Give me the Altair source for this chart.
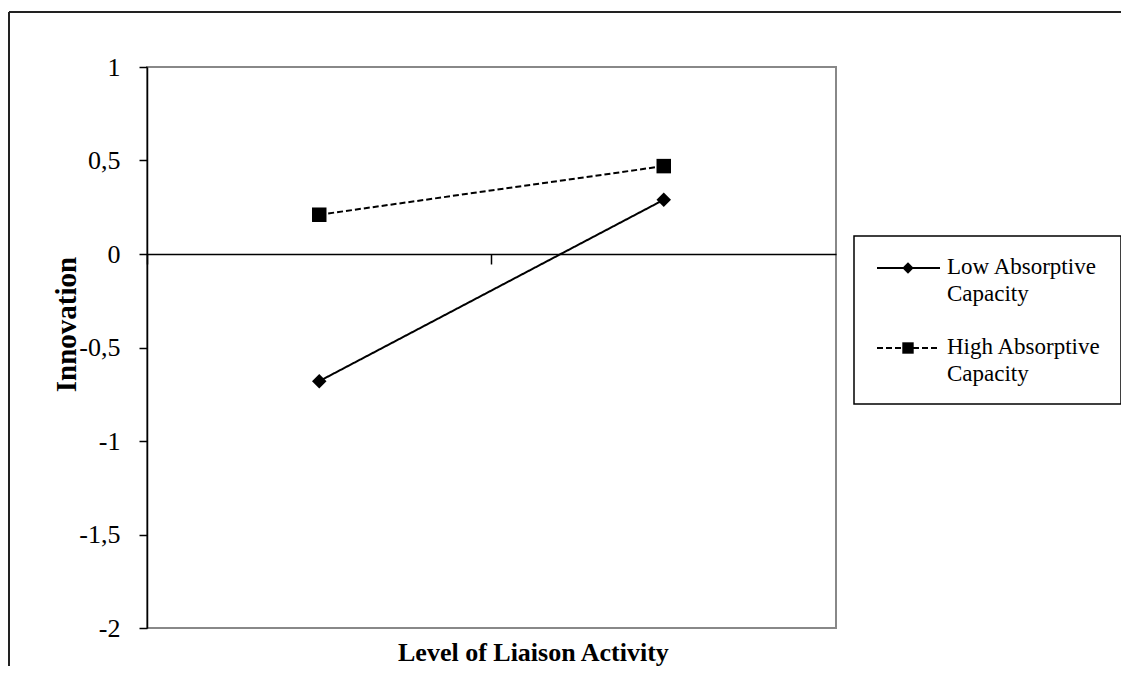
import altair as alt
import pandas as pd

# ---- data ----
liaison_levels = ["Low", "High"]
series_names = ["Low Absorptive Capacity", "High Absorptive Capacity"]
low_capacity = [-0.68, 0.29]
high_capacity = [0.21, 0.47]
y_ticks = [-2, -1.5, -1, -0.5, 0, 0.5, 1]
x_title = "Level of Liaison Activity"
y_title = "Innovation"

rows = []
for lvl, v in zip(liaison_levels, low_capacity):
    rows.append({"liaison": lvl, "series": series_names[0], "value": v})
for lvl, v in zip(liaison_levels, high_capacity):
    rows.append({"liaison": lvl, "series": series_names[1], "value": v})
df = pd.DataFrame(rows)
leg_df = pd.DataFrame({"series": series_names})
one = pd.DataFrame({"k": [0]})

FONT = "Liberation Serif"
W, H = 689, 561

dash_scale = alt.Scale(domain=series_names, range=[[1, 0], [6, 3]])
shape_scale = alt.Scale(domain=series_names, range=["diamond", "square"])

x_enc = alt.X(
    "liaison:N", sort=liaison_levels, bandPosition=0.5,
    scale=alt.Scale(type="band", paddingInner=0, paddingOuter=0),
    axis=alt.Axis(title=None, labels=False, domainColor="black", domainWidth=1.5,
                  tickColor="black", tickSize=10, tickWidth=1.5, bandPosition=0,
                  offset=-374, grid=False),
)
y_enc = alt.Y(
    "value:Q", scale=alt.Scale(domain=[-2, 1], nice=False, zero=False),
    axis=alt.Axis(title=y_title, values=y_ticks,
                  labelExpr="replace(toString(datum.value), '.', ',')",
                  labelFont=FONT, labelFontSize=26, labelColor="black", labelPadding=19,
                  tickSize=8, tickColor="black", tickWidth=1.5,
                  domainColor="black", domainWidth=1.5, grid=False,
                  titleFont=FONT, titleFontSize=29, titleFontWeight="bold",
                  titleColor="black", titleX=-72, titleY=257,
                  titleBaseline="alphabetic", titleAlign="center", titleAngle=270),
)

lines = alt.Chart(df).mark_line(color="black", strokeWidth=2).encode(
    x=x_enc, y=y_enc,
    strokeDash=alt.StrokeDash("series:N", scale=dash_scale, legend=None),
    detail="series:N",
)
points = alt.Chart(df).mark_point(filled=True, color="black", size=210, opacity=1).encode(
    x=x_enc, y=y_enc,
    shape=alt.Shape("series:N", scale=shape_scale, legend=None),
)
main = alt.layer(lines, points)

# ---- x axis title (text mark under the plot) ----
xt = alt.Chart(one).mark_text(font=FONT, fontSize=26, fontWeight="bold", color="black",
                              align="left", baseline="alphabetic").encode(
    x=alt.value(251), y=alt.value(H + 33), text=alt.value(x_title))

# ---- outer frame ----
frame_top = alt.Chart(one).mark_rule(color="#222", strokeWidth=2).encode(
    x=alt.value(-138), x2=alt.value(1000), y=alt.value(-55))
frame_left = alt.Chart(one).mark_rule(color="#222", strokeWidth=2).encode(
    x=alt.value(-138), y=alt.value(-55), y2=alt.value(620))

# ---- legend box ----
ly = alt.Y("series:N", sort=series_names,
           scale=alt.Scale(type="point", domain=series_names, range=[201, 281], padding=0),
           axis=None)
box = alt.Chart(one).mark_rect(fill="white", stroke="black", strokeWidth=1.5).encode(
    x=alt.value(707), x2=alt.value(974), y=alt.value(169), y2=alt.value(337))
leg_lines = alt.Chart(leg_df).mark_rule(color="black", strokeWidth=2).encode(
    x=alt.value(730), x2=alt.value(793), y=ly,
    strokeDash=alt.StrokeDash("series:N", scale=dash_scale, legend=None))
leg_pts = alt.Chart(leg_df).mark_point(filled=True, color="black", size=130, opacity=1).encode(
    x=alt.value(761), y=ly,
    shape=alt.Shape("series:N", scale=shape_scale, legend=None))
leg_text = alt.Chart(leg_df).transform_calculate(
    label="replace(datum.series, ' Capacity', '|Capacity')"
).mark_text(align="left", baseline="top", dy=-12, font=FONT, fontSize=23,
            lineHeight=27, lineBreak="|", color="black").encode(
    x=alt.value(800), y=ly, text="label:N")
legend = alt.layer(box, leg_lines, leg_pts, leg_text)

chart = alt.layer(frame_top, frame_left, main, xt, legend).resolve_scale(
    y="independent"
).properties(
    width=W, height=H,
    autosize=alt.AutoSizeParams(type="none"),
    padding={"left": 139, "top": 59, "right": 285, "bottom": 38},
).configure_view(stroke="#888", strokeWidth=2)

chart.save("out.html", embed_options={"renderer": "svg", "actions": False})
